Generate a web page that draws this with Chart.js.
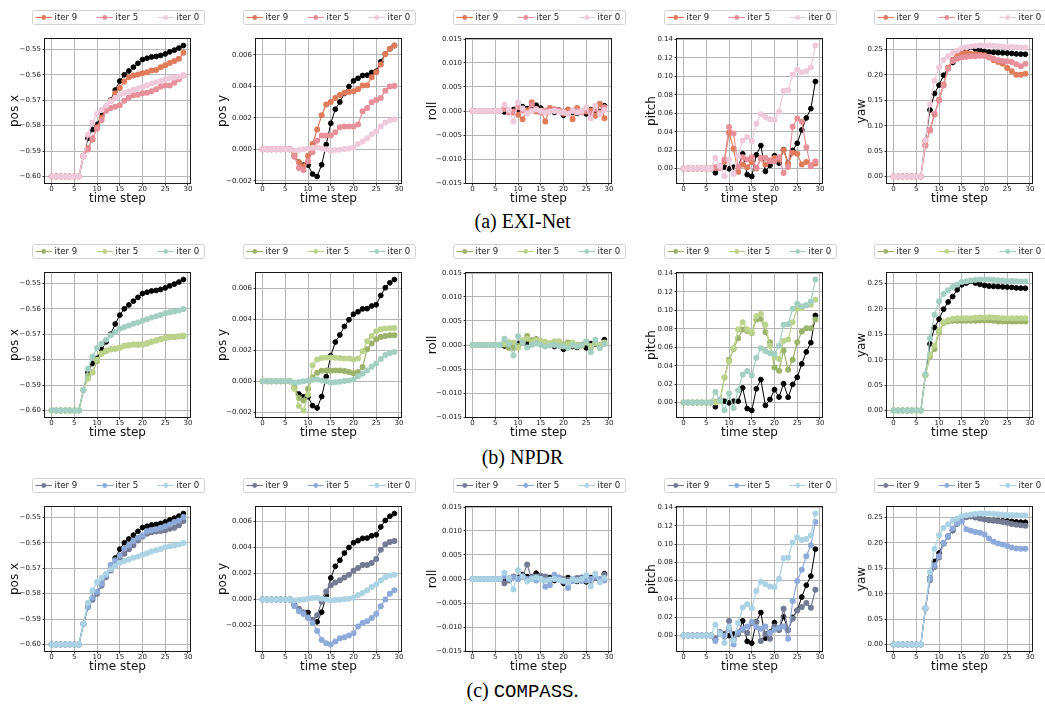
<!DOCTYPE html>
<html>
<head>
<meta charset="utf-8">
<script src="https://cdn.jsdelivr.net/npm/chart.js@4.4.1/dist/chart.umd.min.js"></script>
<style>
    body { margin: 0; width: 1045px; height: 705px; overflow: hidden; background: #fff; position: relative; }
    canvas { position: absolute; }
    .cap { position: absolute; left: 0; width: 1045px; text-align: center; font-family: "Liberation Serif"; font-size: 20px; line-height: 20px; color: #000; }
    .cap .tt { font-family: "Liberation Mono"; font-size: 19px; }
</style>
</head>
<body>
<div class="cap" style="top:211px">(a) EXI-Net</div>
<div class="cap" style="top:447px">(b) NPDR</div>
<div class="cap" style="top:680px">(c) <span class="tt">COMPASS</span>.</div>
<script>
var steps = [0, 1, 2, 3, 4, 5, 6, 7, 8, 9, 10, 11, 12, 13, 14, 15, 16, 17, 18, 19, 20, 21, 22, 23, 24, 25, 26, 27, 28, 29]
var xTicks = [0, 5, 10, 15, 20, 25, 30]

/** ground truth trajectory (black) */
var gtPosX = [-0.6, -0.6, -0.6, -0.6, -0.6, -0.6, -0.6, -0.592, -0.585, -0.5815, -0.5795, -0.576, -0.573, -0.570, -0.566, -0.5625, -0.560, -0.5585, -0.557, -0.5555, -0.554, -0.5535, -0.553, -0.5528, -0.5524, -0.5518, -0.551, -0.5503, -0.5495, -0.5485]
var gtPosY = [0, 0, 0, 0, 0, 0, 0, -0.00042, -0.00082, -0.001, -0.001, -0.00157, -0.00172, -0.00098, 0.0003, 0.00165, 0.00254, 0.003, 0.00355, 0.00398, 0.00434, 0.0045, 0.00468, 0.0047, 0.00487, 0.00495, 0.00555, 0.00605, 0.00637, 0.00658]
var gtRoll = [0, 0, 0, 0, 0, 0, 0, -0.0002, 0.0001, 0.0003, 0.0003, 0.0009, 0.0005, 0.0004, 0.0012, 0.0006, -0.0002, 0.0003, -0.0003, 0.0002, -0.0009, 0.0003, -0.0003, -0.0005, 0.0, -0.0006, 0.0003, 0.0002, -0.0001, 0.0011]
var gtPitch = [0, 0, 0, 0, 0, 0, 0, -0.0045, 0.0028, 0.0015, -0.0002, 0.0015, 0.0015, 0.016, -0.0065, -0.0085, 0.015, 0.025, -0.003, 0.0035, 0.014, 0.006, 0.0205, 0.0058, 0.0198, 0.0275, 0.042, 0.055, 0.065, 0.0945]
var gtYaw = [0, 0, 0, 0, 0, 0, 0, 0.0705, 0.131, 0.1635, 0.18, 0.1995, 0.2137, 0.2245, 0.2378, 0.2477, 0.251, 0.2545, 0.251, 0.2485, 0.2465, 0.245, 0.2445, 0.244, 0.2435, 0.2432, 0.2425, 0.2415, 0.241, 0.2408]

/** iter 0, shared by all methods */
var initPosX = [-0.6, -0.6, -0.6, -0.6, -0.6, -0.6, -0.6, -0.592, -0.5836, -0.5788, -0.5754, -0.5738, -0.5722, -0.5704, -0.5691, -0.5679, -0.5672, -0.5666, -0.5659, -0.5654, -0.5647, -0.5641, -0.5634, -0.5629, -0.5624, -0.5618, -0.5614, -0.5611, -0.5607, -0.5601]
var initPosY = [0, 0, 0, 0, 0, 0, 0, -0.00008, -0.00004, 0, 0.00005, 0.0001, 0.00012, 0.00006, 0, -0.00009, -0.00005, -0.00002, 0.00002, 0.00006, 0.00012, 0.00033, 0.0005, 0.0007, 0.00095, 0.00115, 0.00145, 0.0017, 0.00183, 0.0019]
var initRoll = [0, 0, 0, 0, 0, 0, 0, 0.0013, 0.0002, -0.0022, 0.0018, 0.0005, -0.0005, 0.0, 0.0003, 0.0, -0.0003, -0.0001, 0.0, -0.0002, -0.0003, -0.0006, 0.0, -0.0003, 0.0, 0.0008, -0.0015, 0.0011, -0.0007, 0.0002]
var initPitch = [0, 0, 0, 0, 0, 0, 0, 0.0116, 0.0025, -0.0084, 0.0098, -0.0058, 0.0135, 0.0305, 0.0342, 0.0298, 0.0487, 0.0589, 0.056, 0.0535, 0.0527, 0.0618, 0.0844, 0.0851, 0.1018, 0.1073, 0.1044, 0.1055, 0.1098, 0.1335]
var initYaw = [0, 0, 0, 0, 0, 0, 0, 0.0714, 0.1422, 0.1885, 0.215, 0.2295, 0.2368, 0.2434, 0.248, 0.2533, 0.2546, 0.256, 0.2573, 0.258, 0.258, 0.258, 0.2573, 0.2566, 0.256, 0.2553, 0.255, 0.2546, 0.2543, 0.254]

/** EXI-Net */
var exiPosX9 = [-0.6, -0.6, -0.6, -0.6, -0.6, -0.6, -0.6, -0.592, -0.5888, -0.5855, -0.5806, -0.5769, -0.5731, -0.5702, -0.5673, -0.5652, -0.5626, -0.561, -0.5603, -0.5599, -0.5594, -0.559, -0.5583, -0.5581, -0.557, -0.5563, -0.5554, -0.5546, -0.5537, -0.5513]
var exiPosX5 = [-0.6, -0.6, -0.6, -0.6, -0.6, -0.6, -0.6, -0.592, -0.5894, -0.585, -0.5812, -0.5779, -0.5742, -0.5731, -0.5726, -0.572, -0.5702, -0.5689, -0.5681, -0.5679, -0.5673, -0.5671, -0.5665, -0.5657, -0.5647, -0.5642, -0.5642, -0.5631, -0.5618, -0.5603]
var exiPosY9 = [0, 0, 0, 0, 0, 0, 0, -0.00034, -0.00083, -0.00108, -0.0004, 0.00034, 0.00125, 0.00216, 0.00284, 0.003, 0.00326, 0.00345, 0.00358, 0.00364, 0.00368, 0.00381, 0.00404, 0.00406, 0.00457, 0.00489, 0.00538, 0.00605, 0.00637, 0.00658]
var exiPosY5 = [0, 0, 0, 0, 0, 0, 0, -0.00047, -0.00119, -0.00131, -0.00076, -0.00019, 0.00055, 0.00087, 0.00087, 0.00087, 0.00108, 0.0014, 0.00144, 0.00144, 0.00144, 0.00157, 0.00241, 0.00262, 0.00298, 0.00313, 0.00326, 0.00372, 0.00398, 0.00402]
var exiRoll9 = [0, 0, 0, 0, 0, 0, 0, 0.0006, 0.0001, -0.0003, -0.0008, -0.0017, 0.0001, 0.0018, -0.0001, 0.0001, -0.0022, 0.0006, 0.0001, 0.0001, -0.0005, 0.0003, -0.0017, 0.0006, -0.0001, -0.0001, 0.0001, -0.001, 0.0015, -0.0015]
var exiRoll5 = [0, 0, 0, 0, 0, 0, 0, 0.0004, -0.0003, -0.0001, 0.0008, 0.0001, -0.0003, 0.0013, 0.0004, -0.0003, 0.0001, -0.0001, 0.0004, 0.0001, -0.0001, -0.0005, 0.0001, 0.0001, -0.0003, 0.0001, -0.0006, 0.0004, -0.0003, 0.0008]
var exiPitch9 = [0, 0, 0, 0, 0, 0, 0, 0.0007, 0.0025, 0.008, 0.039, 0.0215, -0.0036, 0.0044, 0.0015, 0.0069, 0.0, 0.0109, 0.0044, 0.0087, 0.0116, 0.0098, 0.02, 0.0051, 0.0171, 0.016, 0.0044, 0.0073, 0.0036, 0.0055]
var exiPitch5 = [0, 0, 0, 0, 0, 0, 0, 0.0015, 0.0007, 0.0098, 0.0451, 0.0382, 0.0018, 0.0124, 0.0098, 0.0124, 0.0007, 0.0116, 0.0116, 0.008, 0.008, 0.0124, -0.0047, 0.0018, 0.0455, 0.0545, 0.0509, 0.0233, 0.0025, 0.008]
var exiYaw9 = [0, 0, 0, 0, 0, 0, 0, 0.0627, 0.0904, 0.122, 0.151, 0.1814, 0.2144, 0.2302, 0.2388, 0.2434, 0.2434, 0.242, 0.2408, 0.2401, 0.2388, 0.2342, 0.2289, 0.2256, 0.2223, 0.2137, 0.2071, 0.2005, 0.2005, 0.2025]
var exiYaw5 = [0, 0, 0, 0, 0, 0, 0, 0.0607, 0.0917, 0.1234, 0.1497, 0.1794, 0.2124, 0.2276, 0.2322, 0.2342, 0.2355, 0.2368, 0.2368, 0.2381, 0.2375, 0.2355, 0.2322, 0.2289, 0.2276, 0.227, 0.2256, 0.221, 0.217, 0.2223]

/** NPDR */
var npdrPosX9 = [-0.6, -0.6, -0.6, -0.6, -0.6, -0.6, -0.6, -0.592, -0.5862, -0.5851, -0.5805, -0.5775, -0.5766, -0.5759, -0.5757, -0.5753, -0.5746, -0.5743, -0.5741, -0.5741, -0.5741, -0.5737, -0.573, -0.5725, -0.572, -0.5716, -0.5712, -0.5711, -0.5709, -0.5707]
var npdrPosX5 = [-0.6, -0.6, -0.6, -0.6, -0.6, -0.6, -0.6, -0.592, -0.5875, -0.5849, -0.5801, -0.5778, -0.5764, -0.576, -0.5756, -0.5752, -0.5747, -0.5743, -0.5742, -0.5742, -0.5741, -0.5736, -0.573, -0.5724, -0.572, -0.5715, -0.5712, -0.571, -0.5708, -0.5705]
var npdrPosY9 = [0, 0, 0, 0, 0, 0, 0, -0.00037, -0.00108, -0.00123, -0.00047, 0.00026, 0.00056, 0.00069, 0.00071, 0.00069, 0.0007, 0.00071, 0.00067, 0.0006, 0.00052, 0.0006, 0.00093, 0.00207, 0.00244, 0.00272, 0.00287, 0.00293, 0.00298, 0.00298]
var npdrPosY5 = [0, 0, 0, 0, 0, 0, 0, -0.00047, -0.0016, -0.00188, -0.00086, 0.00104, 0.00142, 0.00151, 0.00155, 0.00155, 0.00153, 0.00151, 0.00147, 0.00147, 0.00142, 0.00147, 0.00194, 0.00259, 0.00293, 0.00324, 0.00337, 0.00341, 0.00343, 0.00345]
var npdrRoll9 = [0, 0, 0, 0, 0, 0, 0, 0.0005, -0.0006, -0.0006, -0.0002, 0.0005, 0.0019, 0.001, 0.0012, 0.0008, 0.0005, 0.0003, 0.0006, 0.0006, 0.0001, 0.0005, -0.0001, 0.0, 0.0001, 0.0006, -0.0006, 0.0003, -0.0001, 0.0003]
var npdrRoll5 = [0, 0, 0, 0, 0, 0, 0, 0.0001, 0.0006, 0.0005, -0.0006, 0.001, 0.0013, 0.0006, 0.001, 0.0008, 0.0006, 0.0003, 0.0008, 0.0008, -0.0001, 0.0001, 0.0005, -0.0001, -0.0002, 0.0005, -0.0002, 0.0004, -0.0002, 0.0005]
var npdrPitch9 = [0, 0, 0, 0, 0, 0, 0, 0.0007, 0.0018, 0.0273, 0.0465, 0.0582, 0.0698, 0.0793, 0.0778, 0.0756, 0.0902, 0.0909, 0.0764, 0.0655, 0.0382, 0.0345, 0.0564, 0.0356, 0.0465, 0.0655, 0.0771, 0.0807, 0.0807, 0.0902]
var npdrPitch5 = [0, 0, 0, 0, 0, 0, 0, 0.0, 0.0018, 0.0273, 0.0444, 0.0589, 0.0793, 0.0873, 0.0793, 0.0764, 0.0938, 0.096, 0.0844, 0.0618, 0.0491, 0.0473, 0.0669, 0.0684, 0.0873, 0.1018, 0.1025, 0.1055, 0.1062, 0.1116]
var npdrYaw9 = [0, 0, 0, 0, 0, 0, 0, 0.0694, 0.1065, 0.121, 0.1541, 0.1726, 0.1753, 0.1766, 0.1766, 0.1766, 0.1766, 0.1766, 0.1768, 0.1772, 0.1772, 0.1772, 0.1766, 0.1753, 0.1753, 0.1753, 0.1753, 0.1753, 0.1753, 0.1753]
var npdrYaw5 = [0, 0, 0, 0, 0, 0, 0, 0.0694, 0.1091, 0.1276, 0.1574, 0.1739, 0.1779, 0.1806, 0.1819, 0.1819, 0.1819, 0.1819, 0.1825, 0.1832, 0.1832, 0.1839, 0.1832, 0.1825, 0.1819, 0.1819, 0.1819, 0.1819, 0.1819, 0.1819]

/** COMPASS */
var compassPosX9 = [-0.6, -0.6, -0.6, -0.6, -0.6, -0.6, -0.6, -0.592, -0.5853, -0.5824, -0.5801, -0.5768, -0.5735, -0.5709, -0.5682, -0.5663, -0.5643, -0.5625, -0.561, -0.5591, -0.5575, -0.5564, -0.5559, -0.5556, -0.5554, -0.5551, -0.5545, -0.5541, -0.5531, -0.5514]
var compassPosX5 = [-0.6, -0.6, -0.6, -0.6, -0.6, -0.6, -0.6, -0.592, -0.585, -0.5816, -0.5794, -0.5761, -0.5728, -0.5686, -0.5669, -0.565, -0.5623, -0.561, -0.5593, -0.558, -0.5571, -0.5555, -0.5551, -0.5547, -0.5541, -0.5535, -0.5528, -0.5518, -0.5512, -0.5499]
var compassPosY9 = [0, 0, 0, 0, 0, 0, 0, -0.00039, -0.00072, -0.00103, -0.00137, -0.00155, -0.00122, -0.00018, 0.0006, 0.00109, 0.00129, 0.00147, 0.00168, 0.00189, 0.0022, 0.00241, 0.00264, 0.00264, 0.00279, 0.0031, 0.0038, 0.00422, 0.0044, 0.00448]
var compassPosY5 = [0, 0, 0, 0, 0, 0, 0, -0.00052, -0.00091, -0.00111, -0.00142, -0.00181, -0.00241, -0.0031, -0.00336, -0.00345, -0.00323, -0.00298, -0.0029, -0.00277, -0.00259, -0.00207, -0.00181, -0.00168, -0.00142, -0.00111, -0.00052, 0.0, 0.00044, 0.0007]
var compassRoll9 = [0, 0, 0, 0, 0, 0, 0, -0.0009, -0.0003, 0.0005, 0.0, 0.0005, 0.003, 0.0, 0.0005, 0.0007, 0.0005, -0.0002, 0.0002, 0.0003, 0.0, -0.0002, 0.0, 0.0002, 0.0003, -0.0002, -0.0004, 0.0002, -0.0002, 0.0009]
var compassRoll5 = [0, 0, 0, 0, 0, 0, 0, 0.0005, 0.0, 0.0003, 0.0, 0.0005, 0.0, 0.0002, -0.0003, 0.0, -0.0016, -0.0013, 0.0009, 0.0002, -0.0005, -0.0019, -0.0004, -0.0002, -0.0004, -0.0003, 0.0, 0.0005, 0.0, -0.0003]
var compassPitch9 = [0, 0, 0, 0, 0, 0, 0, -0.0037, 0.0037, -0.0011, 0.0157, -0.0048, 0.0018, 0.0062, 0.0026, 0.0135, 0.0146, -0.0062, 0.0018, -0.0037, 0.0099, 0.0062, 0.0293, 0.0062, 0.0183, 0.0274, 0.0311, 0.0355, 0.0303, 0.0501]
var compassPitch5 = [0, 0, 0, 0, 0, 0, 0, -0.0062, 0.0018, 0.0, 0.0073, -0.0099, 0.0037, 0.0073, 0.0099, 0.0146, 0.0091, 0.0073, 0.0099, 0.0026, 0.0062, 0.0084, 0.0099, -0.0037, 0.0377, 0.0596, 0.072, 0.0867, 0.0987, 0.1243]
var compassYaw9 = [0, 0, 0, 0, 0, 0, 0, 0.0714, 0.1263, 0.1528, 0.1713, 0.1991, 0.2123, 0.2255, 0.2388, 0.2487, 0.2507, 0.252, 0.25, 0.248, 0.2467, 0.2454, 0.244, 0.2427, 0.2414, 0.2401, 0.2374, 0.2361, 0.2348, 0.2341]
var compassYaw5 = [0, 0, 0, 0, 0, 0, 0, 0.0714, 0.1296, 0.1561, 0.1739, 0.2004, 0.2136, 0.2288, 0.2388, 0.2421, 0.2269, 0.2243, 0.2216, 0.2202, 0.2169, 0.209, 0.2024, 0.1991, 0.1971, 0.1938, 0.1911, 0.1892, 0.1885, 0.1885]

var quantities = ['pos x', 'pos y', 'roll', 'pitch', 'yaw']
var tickStep = [0.01, 0.002, 0.005, 0.02, 0.05]
var tickDigits = [2, 3, 3, 2, 2]
var fixedRange = [null, null, [-0.015, 0.015], null, null]
var legendLabels = ['iter 9', 'iter 5', 'iter 0']

var truth = [gtPosX, gtPosY, gtRoll, gtPitch, gtYaw]
var iter0 = [initPosX, initPosY, initRoll, initPitch, initYaw]
var methods = [
    {colors: ['#e07b5b', '#e78f9b', '#efcadb'],
        iter9: [exiPosX9, exiPosY9, exiRoll9, exiPitch9, exiYaw9],
        iter5: [exiPosX5, exiPosY5, exiRoll5, exiPitch5, exiYaw5]},
    {colors: ['#9db36b', '#bcd38c', '#a4cfc3'],
        iter9: [npdrPosX9, npdrPosY9, npdrRoll9, npdrPitch9, npdrYaw9],
        iter5: [npdrPosX5, npdrPosY5, npdrRoll5, npdrPitch5, npdrYaw5]},
    {colors: ['#747b93', '#8eaadb', '#abd3e4'],
        iter9: [compassPosX9, compassPosY9, compassRoll9, compassPitch9, compassYaw9],
        iter5: [compassPosX5, compassPosY5, compassRoll5, compassPitch5, compassYaw5]}
]

// panel geometry (axes box of every subplot)
var plotLeft = [45, 256, 466, 677, 887]
var plotTop = [39, 273, 507]
var plotW = 145, plotH = 144
var yAxisW = 44, xAxisH = 24, legendGap = 30
var yTitlePad = [6.8, 3.8, 3.8, 11.8, 11.5]

Chart.defaults.font.family = "'DejaVu Sans'"
Chart.defaults.color = '#222'

function points(vals) {
    return vals.map(function (v, i) { return {x: steps[i], y: v} })
}

function fmt(v, digits) {
    if (Math.abs(v) < 1e-12) v = 0
    return (v < 0 ? '\u2212' : '') + Math.abs(v).toFixed(digits)
}

// matplotlib style autoscale: data range plus 5% each side
function yLimits(series, col) {
    if (fixedRange[col]) return fixedRange[col]
    var all = [].concat.apply([], series)
    var lo = Math.min.apply(null, all), hi = Math.max.apply(null, all)
    var pad = (hi - lo) * 0.05
    return [lo - pad, hi + pad]
}

function tickValues(lo, hi, step) {
    var out = []
    var k0 = Math.ceil(lo / step - 1e-6), k1 = Math.floor(hi / step + 1e-6)
    for (var k = k0; k <= k1; k++) out.push(Math.round(k * step * 1e6) / 1e6)
    return out
}

var axesFrame = {
    id: 'axesFrame',
    afterDatasetsDraw: function (chart) {
        var a = chart.chartArea, ctx = chart.ctx
        ctx.save()
        ctx.strokeStyle = '#1a1a1a'
        ctx.lineWidth = 1
        ctx.strokeRect(Math.round(a.left) - 0.5, Math.round(a.top) - 0.5, Math.round(a.right - a.left) + 1, Math.round(a.bottom - a.top) + 1)
        ctx.restore()
    }
}

// framed legend: line with marker, then label
var boxLegend = {
    id: 'boxLegend',
    afterDraw: function (chart) {
        var a = chart.chartArea, ctx = chart.ctx
        var items = chart.data.datasets.filter(function (d) { return d.inLegend })
        var w = 172, h = 14
        var x = Math.round((a.left + a.right) / 2 - w / 2) + 0.5
        var y = Math.round(a.top - legendGap) + 1.5
        ctx.save()
        ctx.beginPath()
        ctx.roundRect(x, y, w, h, 2)
        ctx.fillStyle = 'rgba(255,255,255,0.8)'
        ctx.fill()
        ctx.strokeStyle = '#d2d2d2'
        ctx.lineWidth = 1
        ctx.stroke()
        items.forEach(function (d, i) {
            var x0 = x + 3 + i * 61, ym = y + h / 2
            ctx.strokeStyle = d.borderColor
            ctx.lineWidth = 1.2
            ctx.beginPath()
            ctx.moveTo(x0, ym)
            ctx.lineTo(x0 + 16.5, ym)
            ctx.stroke()
            ctx.fillStyle = d.backgroundColor
            ctx.beginPath()
            ctx.arc(x0 + 8.25, ym, 2.4, 0, Math.PI * 2)
            ctx.fill()
            ctx.fillStyle = '#222'
            ctx.font = "8.6px 'DejaVu Sans'"
            ctx.textBaseline = 'middle'
            ctx.textAlign = 'left'
            ctx.fillText(d.label, x0 + 19, ym + 0.5)
        })
        ctx.restore()
    }
}

function makePanel(row, col) {
    var m = methods[row]
    var series = [truth[col], m.iter9[col], m.iter5[col], iter0[col]]
    var lim = yLimits(series, col)
    var yTicks = tickValues(lim[0], lim[1], tickStep[col])

    var canvas = document.createElement('canvas')
    canvas.width = yAxisW + plotW + 18
    canvas.height = legendGap + plotH + xAxisH + 1
    canvas.style.left = (plotLeft[col] - yAxisW) + 'px'
    canvas.style.top = (plotTop[row] - legendGap) + 'px'
    document.body.appendChild(canvas)

    // higher order is painted first: ground truth at the bottom, iter 0 on top
    var datasets = [{
        label: 'ground truth', data: points(truth[col]), order: 3,
        borderColor: '#000', backgroundColor: '#000', borderWidth: 1, inLegend: false
    }]
    var iters = [m.iter9[col], m.iter5[col], iter0[col]]
    iters.forEach(function (vals, k) {
        datasets.push({
            label: legendLabels[k], data: points(vals), order: 2 - k,
            borderColor: m.colors[k], backgroundColor: m.colors[k], borderWidth: 1.2, inLegend: true
        })
    })

    var grid = {color: '#b6b6b6', lineWidth: 1, tickLength: 2.5, tickColor: '#333', tickWidth: 1}
    new Chart(canvas.getContext('2d'), {
        type: 'line',
        data: {datasets: datasets},
        plugins: [axesFrame, boxLegend],
        options: {
            responsive: false,
            animation: false,
            events: [],
            layout: {padding: {left: 0, right: 18, top: legendGap, bottom: 1}},
            elements: {
                line: {tension: 0},
                point: {radius: 2.4, borderWidth: 0, hoverRadius: 2.4}
            },
            plugins: {legend: {display: false}, tooltip: {enabled: false}},
            scales: {
                x: {
                    type: 'linear', min: -1.45, max: 30.45, bounds: 'data',
                    afterBuildTicks: function (s) { s.ticks = xTicks.map(function (v) { return {value: v} }) },
                    afterFit: function (s) { s.height = xAxisH },
                    grid: grid,
                    border: {display: false},
                    ticks: {font: {size: 7, lineHeight: 1}, padding: 0, maxRotation: 0, autoSkip: false, color: '#222'},
                    title: {display: true, text: 'time step', font: {size: 12}, color: '#111', padding: {top: 0, bottom: 0.8}}
                },
                y: {
                    type: 'linear', min: lim[0], max: lim[1], bounds: 'data',
                    afterBuildTicks: function (s) { s.ticks = yTicks.map(function (v) { return {value: v} }) },
                    afterFit: function (s) { s.width = yAxisW },
                    grid: grid,
                    border: {display: false},
                    ticks: {
                        font: {size: 7, lineHeight: 1}, padding: 1.5, autoSkip: false, color: '#222',
                        callback: function (v) { return fmt(v, tickDigits[col]) }
                    },
                    title: {display: true, text: quantities[col], font: {size: 12}, color: '#111', padding: {top: yTitlePad[col], bottom: 0}}
                }
            }
        }
    })
}

for (var r = 0; r < methods.length; r++) {
    for (var c = 0; c < quantities.length; c++) makePanel(r, c)
}
</script>
</body>
</html>
